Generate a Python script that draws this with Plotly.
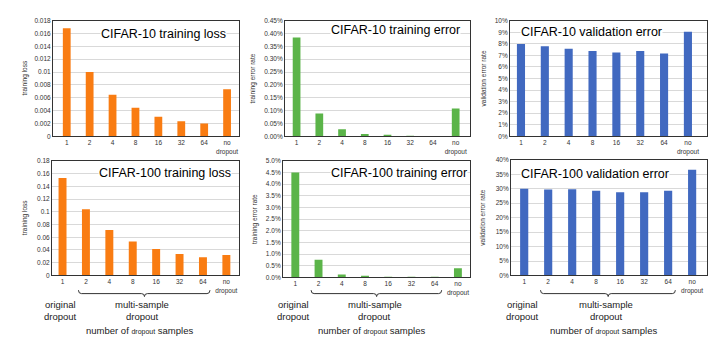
import plotly.graph_objects as go

W, H = 720, 351

categories = ["1", "2", "4", "8", "16", "32", "64", "no<br>dropout"]

c10_train_loss = [0.0168, 0.0100, 0.00646, 0.00443, 0.00305, 0.00234, 0.00198, 0.00733]
c10_train_err = [0.384, 0.089, 0.027, 0.009, 0.003, 0.0015, 0.0, 0.108]          # percent
c10_val_err = [7.98, 7.78, 7.58, 7.38, 7.25, 7.38, 7.15, 9.05]                   # percent
c100_train_loss = [0.153, 0.104, 0.0712, 0.0534, 0.0415, 0.0338, 0.0288, 0.0323]
c100_train_err = [4.50, 0.76, 0.13, 0.04, 0.012, 0.006, 0.003, 0.39]             # percent
c100_val_err = [30.0, 29.7, 29.8, 29.3, 28.8, 28.8, 29.3, 36.6]                  # percent

titles = ["CIFAR-10 training loss", "CIFAR-10 training error", "CIFAR-10 validation error",
          "CIFAR-100 training loss", "CIFAR-100 training error", "CIFAR-100 validation error"]
ylabels = ["training loss", "training error rate", "validation error rate",
           "training loss", "training error rate", "validation error rate"]

ticks_c10_loss = [0, 0.002, 0.004, 0.006, 0.008, 0.01, 0.012, 0.014, 0.016, 0.018]
ticks_c10_err = [0, 0.05, 0.10, 0.15, 0.20, 0.25, 0.30, 0.35, 0.40, 0.45]
ticks_c10_val = [0, 1, 2, 3, 4, 5, 6, 7, 8, 9, 10]
ticks_c100_loss = [0, 0.02, 0.04, 0.06, 0.08, 0.1, 0.12, 0.14, 0.16, 0.18]
ticks_c100_err = [0, 0.5, 1.0, 1.5, 2.0, 2.5, 3.0, 3.5, 4.0, 4.5, 5.0]
ticks_c100_val = [0, 5, 10, 15, 20, 25, 30, 35, 40]

label_c10_loss = [f"{v:g}" for v in ticks_c10_loss]
label_c10_err = [f"{v:.2f}%" for v in ticks_c10_err]
label_c10_val = [f"{v:g}%" for v in ticks_c10_val]
label_c100_loss = [f"{v:g}" for v in ticks_c100_loss]
label_c100_err = [f"{v:.1f}%" for v in ticks_c100_err]
label_c100_val = [f"{v:g}%" for v in ticks_c100_val]

ORANGE = "#F97C12"
GREEN = "#5BB449"
BLUE = "#4169C0"

series = [c10_train_loss, c10_train_err, c10_val_err, c100_train_loss, c100_train_err, c100_val_err]
colors = [ORANGE, GREEN, BLUE, ORANGE, GREEN, BLUE]
tickvals = [ticks_c10_loss, ticks_c10_err, ticks_c10_val, ticks_c100_loss, ticks_c100_err, ticks_c100_val]
ticktexts = [label_c10_loss, label_c10_err, label_c10_val, label_c100_loss, label_c100_err, label_c100_val]

# layout (pixels): plot boxes
boxes = [  # x0, x1, ytop, ybottom
    (53, 239, 17, 135),
    (285, 470, 17, 135),
    (510, 707, 17, 135),
    (52, 239, 160, 277),
    (283, 470, 160, 279),
    (511, 707, 159, 277),
]
xranges = [(-0.6, 7.52), (-0.51, 7.63), (-0.46, 7.8), (-0.45, 7.54), (-0.53, 7.52), (-0.55, 7.62)]
ytitle_x = [25, 253, 483, 25, 255, 483]
title_pos = [  # anchor x, y(center), xanchor
    (227, 31, "right"), (461, 27, "right"), (520, 29, "left"),
    (232, 172, "right"), (468, 172, "right"), (520, 173, "left"),
]

def px(x):
    return x / W

def py(y):
    return 1 - y / H

fig = go.Figure()
FONT = "Liberation Sans, Arial, sans-serif"
layout = dict(
    width=W, height=H, margin=dict(l=0, r=0, t=0, b=0),
    paper_bgcolor="white", plot_bgcolor="white", showlegend=False,
    font=dict(family=FONT, color="#222"),
    annotations=[], shapes=[],
)

for i in range(6):
    n = "" if i == 0 else str(i + 1)
    x0, x1, yt, yb = boxes[i]
    fig.add_trace(go.Bar(
        x=list(range(len(categories))), y=series[i], marker=dict(color=colors[i], line=dict(width=0)),
        width=0.34, xaxis="x" + n, yaxis="y" + n, hoverinfo="skip",
    ))
    layout["xaxis" + n] = dict(
        domain=[px(x0), px(x1)], anchor="y" + n, range=list(xranges[i]),
        tickmode="array", tickvals=list(range(len(categories))), ticktext=categories,
        tickfont=dict(size=6.5, color="#333"), showgrid=False, zeroline=False,
        showline=True, mirror=True, linecolor="#333", linewidth=1, ticks="", fixedrange=True,
    )
    layout["yaxis" + n] = dict(
        domain=[py(yb), py(yt)], anchor="x" + n, range=[tickvals[i][0], tickvals[i][-1]],
        tickmode="array", tickvals=tickvals[i], ticktext=ticktexts[i],
        tickfont=dict(size=6.5, color="#333"), showgrid=True, gridcolor="#D9D9D9", gridwidth=0.8,
        zeroline=False, showline=True, mirror=True, linecolor="#333", linewidth=1, ticks="",
    )
    tx, ty, anc = title_pos[i]
    layout["annotations"].append(dict(
        text=titles[i], x=px(tx), y=py(ty), xref="paper", yref="paper", xanchor=anc, yanchor="middle",
        showarrow=False, font=dict(size=12.5, color="black", family=FONT), bgcolor="white", borderpad=0,
    ))
    layout["annotations"].append(dict(
        text=ylabels[i], x=px(ytitle_x[i]), y=py((yt + yb) / 2), xref="paper", yref="paper",
        xanchor="center", yanchor="middle", textangle=-90, showarrow=False,
        font=dict(size=6.5, color="#333", family=FONT),
    ))

# bottom annotations for each column (under bottom row)
for j in range(3):
    i = 3 + j
    x0, x1, yt, yb = boxes[i]
    r0, r1 = xranges[i]

    def cx(c):
        return x0 + (c - r0) / (r1 - r0) * (x1 - x0)

    small = 9.5
    layout["annotations"] += [
        dict(text="original", x=px(cx(0) - 2), y=py(307), xref="paper", yref="paper", showarrow=False,
             xanchor="center", yanchor="middle", font=dict(size=small, color="#222")),
        dict(text="dropout", x=px(cx(0) - 2), y=py(318.5), xref="paper", yref="paper", showarrow=False,
             xanchor="center", yanchor="middle", font=dict(size=small, color="#222")),
        dict(text="multi-sample", x=px(cx(3.5) - 2), y=py(307), xref="paper", yref="paper", showarrow=False,
             xanchor="center", yanchor="middle", font=dict(size=small, color="#222")),
        dict(text="dropout", x=px(cx(3.5) - 2), y=py(318.5), xref="paper", yref="paper", showarrow=False,
             xanchor="center", yanchor="middle", font=dict(size=small, color="#222")),
        dict(text="number of <span style='font-size:7px'>dropout</span> samples", x=px(cx(3.3)), y=py(333),
             xref="paper", yref="paper", showarrow=False, xanchor="center", yanchor="middle",
             font=dict(size=small, color="#222")),
    ]
    bx0, bx1, bxm = cx(0.68), cx(6.3), cx(3.5)
    ytop, ymid, ytip = 292, 295.5, 298.5
    r = 3
    path = (f"M {px(bx0)},{py(ytop)} Q {px(bx0)},{py(ymid)} {px(bx0 + r)},{py(ymid)} "
            f"L {px(bxm - r)},{py(ymid)} Q {px(bxm)},{py(ymid)} {px(bxm)},{py(ytip)} "
            f"Q {px(bxm)},{py(ymid)} {px(bxm + r)},{py(ymid)} "
            f"L {px(bx1 - r)},{py(ymid)} Q {px(bx1)},{py(ymid)} {px(bx1)},{py(ytop)}")
    layout["shapes"].append(dict(type="path", path=path, xref="paper", yref="paper",
                                 line=dict(color="#333", width=1)))

fig.update_layout(**layout)
fig.write_html("out.html")
